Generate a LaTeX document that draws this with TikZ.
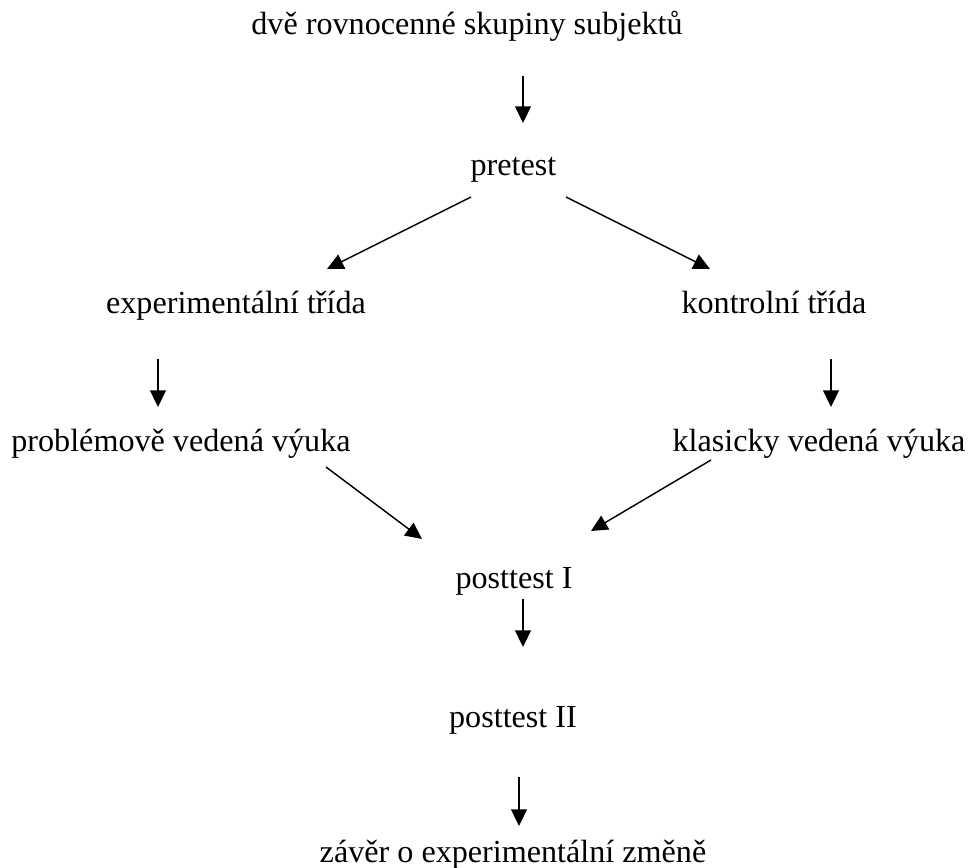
\documentclass[tikz,border=0pt]{standalone}
\usepackage{fontspec}
\setmainfont{Liberation Serif}
\usetikzlibrary{arrows.meta}
\tikzset{
  stage/.style={inner sep=0pt, anchor=base, font=\fontsize{12.25}{14}\selectfont},
  arrow/.style={-{Triangle[length=6.3pt,width=6pt]}, line width=0.55pt}
}
\begin{document}
\begin{tikzpicture}[x=0.381pt,y=-0.381pt]
  \useasboundingbox (0,0) rectangle (968,868);
  \node[stage] (groups) at (467,35) {dvě rovnocenné skupiny subjektů};
  \node[stage] (pretest) at (513.5,175) {pretest};
  \node[stage] (expcls) at (236,313) {experimentální třída};
  \node[stage] (ctrlcls) at (774,313) {kontrolní třída};
  \node[stage] (problem) at (181,451) {problémově vedená výuka};
  \node[stage] (classic) at (819,451) {klasicky vedená výuka};
  \node[stage] (post1) at (514,588) {posttest I};
  \node[stage] (post2) at (513,727) {posttest II};
  \node[stage] (concl) at (513,862) {závěr o experimentální změně};
  % arrow ends sit in the gaps between the texts
  \coordinate (groups-out) at (523,76);
  \coordinate (pretest-in) at (523,123);
  \coordinate (pretest-l) at (471,197);
  \coordinate (pretest-r) at (566,197);
  \coordinate (expcls-in) at (327,269);
  \coordinate (ctrlcls-in) at (710,269);
  \coordinate (expcls-out) at (158,359);
  \coordinate (problem-in) at (158,407);
  \coordinate (ctrlcls-out) at (831,359);
  \coordinate (classic-in) at (831,407);
  \coordinate (problem-out) at (326,467);
  \coordinate (classic-out) at (711,460);
  \coordinate (post1-l) at (422,539);
  \coordinate (post1-r) at (591,531);
  \coordinate (post1-out) at (523,599);
  \coordinate (post2-in) at (523,647);
  \coordinate (post2-out) at (519,777);
  \coordinate (concl-in) at (519,826);
  \draw[arrow] (groups-out) -- (pretest-in);
  \draw[arrow] (pretest-l) -- (expcls-in);
  \draw[arrow] (pretest-r) -- (ctrlcls-in);
  \draw[arrow] (expcls-out) -- (problem-in);
  \draw[arrow] (ctrlcls-out) -- (classic-in);
  \draw[arrow] (problem-out) -- (post1-l);
  \draw[arrow] (classic-out) -- (post1-r);
  \draw[arrow] (post1-out) -- (post2-in);
  \draw[arrow] (post2-out) -- (concl-in);
\end{tikzpicture}
\end{document}
